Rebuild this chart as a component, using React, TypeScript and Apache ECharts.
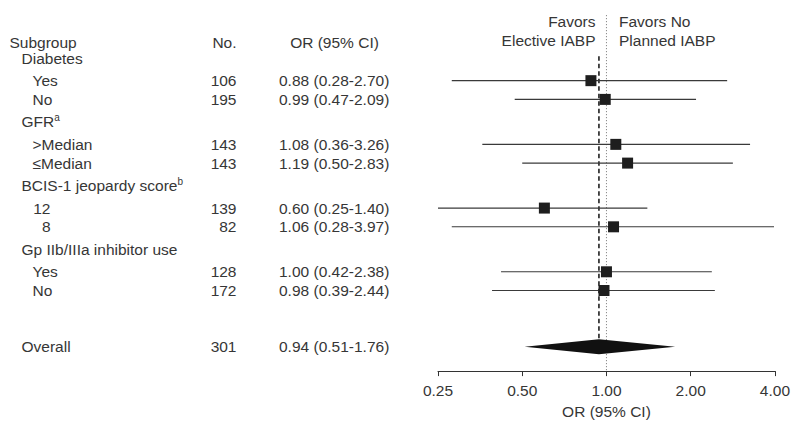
import React, { useEffect, useRef } from "react";
import * as echarts from "echarts";

const FONT = "'Liberation Sans', Arial, Helvetica, sans-serif";
const TXT = "#363636";
const FS = 15.5;

// ---- data ----
const rowLabels = [
  "Diabetes", "Yes", "No",
  "GFR", ">Median", "≤Median",
  "BCIS-1 jeopardy score", "12", "8",
  "Gp IIb/IIIa inhibitor use", "Yes", "No",
  "Overall",
];
const rowKinds = [
  "group", "item", "item",
  "group", "item", "item",
  "group", "item", "item",
  "group", "item", "item",
  "overall",
];
const rowSup = ["", "", "", "a", "", "", "b", "", "", "", "", "", ""];
const counts = [null, 106, 195, null, 143, 143, null, 139, 82, null, 128, 172, 301];
const orValues = [null, 0.88, 0.99, null, 1.08, 1.19, null, 0.6, 1.06, null, 1.0, 0.98, 0.94];
const ciLow = [null, 0.28, 0.47, null, 0.36, 0.5, null, 0.25, 0.28, null, 0.42, 0.39, 0.51];
const ciHigh = [null, 2.7, 2.09, null, 3.26, 2.83, null, 1.4, 3.97, null, 2.38, 2.44, 1.76];
const xTicks = [0.25, 0.5, 1, 2, 4];

const fmt = (v: number) => v.toFixed(2);

// row slots (layout derived from structure)
const slots: number[] = [];
rowKinds.forEach((k, i) => {
  if (i === 0) { slots.push(0); return; }
  const prev = slots[i - 1];
  if (k === "overall") slots.push(prev + 3);
  else if (k === "group" || rowKinds[i - 1] === "group") slots.push(prev + 1.2);
  else slots.push(prev + 1);
});

export default function App() {
  const ref = useRef<HTMLDivElement>(null);
  useEffect(() => {
    if (!ref.current) return;
    const chart = echarts.init(ref.current, undefined, { renderer: "svg" });

    const tableData = rowLabels.map((_, i) => [1, slots[i], i]);
    const ciData: number[][] = [];
    rowLabels.forEach((_, i) => {
      if (orValues[i] != null) {
        ciData.push([orValues[i] as number, ciLow[i] as number, ciHigh[i] as number, slots[i], rowKinds[i] === "overall" ? 1 : 0]);
      }
    });
    const overallIdx = rowKinds.indexOf("overall");
    const refData = [[1, slots[0], orValues[overallIdx] as number, slots[overallIdx]]];

    const txt = (text: string, x: number, y: number, align: string, extra: any = {}) => ({
      type: "text",
      x,
      y,
      style: {
        text,
        align,
        verticalAlign: "middle",
        fontSize: FS,
        fontFamily: FONT,
        fill: TXT,
        ...extra,
      },
    });

    chart.setOption({
      animation: false,
      grid: { left: 438, right: 17, top: 15, bottom: 46 },
      xAxis: {
        type: "log",
        logBase: 2,
        min: xTicks[0],
        max: xTicks[xTicks.length - 1],
        splitLine: { show: false },
        axisLine: { onZero: false, lineStyle: { color: "#333", width: 1 } },
        axisTick: { length: 5, lineStyle: { color: "#333" } },
        axisLabel: {
          formatter: (v: number) => fmt(v),
          color: TXT,
          fontSize: FS,
          fontFamily: FONT,
          margin: 11,
        },
        name: "OR (95% CI)",
        nameLocation: "middle",
        nameGap: 27.5,
        nameTextStyle: { color: TXT, fontSize: FS, fontFamily: FONT },
      },
      yAxis: { type: "value", inverse: true, min: -2.304, max: 16.7, show: false },
      graphic: [
        txt("Subgroup", 9.5, 42, "left"),
        txt("No.", 236.5, 42, "right"),
        txt("OR (95% CI)", 334.5, 42, "center"),
        txt("Favors\nElective IABP", 595.5, 31.2, "right", { lineHeight: 19 }),
        txt("Favors No\nPlanned IABP", 619, 31.2, "left", { lineHeight: 19 }),
      ],
      series: [
        {
          type: "custom",
          name: "ref",
          z: 1,
          silent: true,
          data: refData,
          encode: { x: 0, y: 1 },
          renderItem: (params: any, api: any) => {
            const cs = params.coordSys;
            const x1 = api.coord([api.value(0), api.value(1)])[0];
            const xd = api.coord([api.value(2), api.value(1)])[0];
            const yTop = api.coord([1, api.value(1) - 0.1])[1];
            const yBot = api.coord([1, api.value(3)])[1];
            return {
              type: "group",
              children: [
                {
                  type: "line",
                  shape: { x1, y1: cs.y, x2: x1, y2: cs.y + cs.height },
                  style: { stroke: "#8a8a8a", lineWidth: 1, lineDash: [1.2, 1.8] },
                },
                {
                  type: "line",
                  shape: { x1: xd, y1: yTop, x2: xd, y2: yBot },
                  style: { stroke: "#111", lineWidth: 1.5, lineDash: [4.5, 3] },
                },
              ],
            };
          },
        },
        {
          type: "custom",
          name: "ci",
          z: 2,
          silent: true,
          data: ciData,
          encode: { x: [0, 1, 2], y: 3 },
          renderItem: (params: any, api: any) => {
            const p = api.value(3);
            const c = api.coord([api.value(0), p]);
            const l = api.coord([api.value(1), p]);
            const h = api.coord([api.value(2), p]);
            if (api.value(4) === 1) {
              const hh = 7.5;
              return {
                type: "polygon",
                shape: {
                  points: [
                    [l[0], c[1]],
                    [c[0], c[1] - hh],
                    [h[0], c[1]],
                    [c[0], c[1] + hh],
                  ],
                },
                style: { fill: "#111" },
              };
            }
            const s = 11;
            return {
              type: "group",
              children: [
                {
                  type: "line",
                  shape: { x1: l[0], y1: c[1], x2: h[0], y2: c[1] },
                  style: { stroke: "#3a3a3a", lineWidth: 1.1 },
                },
                {
                  type: "rect",
                  shape: { x: c[0] - s / 2, y: c[1] - s / 2, width: s, height: s },
                  style: { fill: "#1e1e1e" },
                },
              ],
            };
          },
        },
        {
          type: "custom",
          name: "table",
          z: 3,
          silent: true,
          clip: false,
          data: tableData,
          encode: { x: 0, y: 1 },
          renderItem: (params: any, api: any) => {
            const i = api.value(2);
            const y = api.coord([1, api.value(1)])[1];
            const kind = rowKinds[i];
            const label = rowLabels[i];
            const children: any[] = [];
            const base = { fontSize: FS, fontFamily: FONT, fill: TXT, verticalAlign: "middle" };
            if (kind === "item" && /^\d+$/.test(label)) {
              children.push({ type: "text", x: 50.5, y, style: { ...base, text: label, align: "right" } });
            } else if (rowSup[i]) {
              children.push({
                type: "text",
                x: kind === "item" ? 32.5 : 21.5,
                y,
                style: {
                  ...base,
                  text: `{n|${label}}{s|${rowSup[i]}}`,
                  align: "left",
                  rich: {
                    n: { fontSize: FS, fontFamily: FONT, fill: TXT, lineHeight: 18 },
                    s: { fontSize: 10, fontFamily: FONT, fill: TXT, verticalAlign: "top", lineHeight: 10 },
                  },
                },
              });
            } else {
              children.push({
                type: "text",
                x: kind === "item" ? 32.5 : 21.5,
                y,
                style: { ...base, text: label, align: "left" },
              });
            }
            if (counts[i] != null) {
              children.push({ type: "text", x: 236.5, y, style: { ...base, text: String(counts[i]), align: "right" } });
            }
            if (orValues[i] != null) {
              const t = `${fmt(orValues[i] as number)} (${fmt(ciLow[i] as number)}-${fmt(ciHigh[i] as number)})`;
              children.push({ type: "text", x: 279, y, style: { ...base, text: t, align: "left" } });
            }
            return { type: "group", children };
          },
        },
      ],
    });
    return () => chart.dispose();
  }, []);
  return (
    <div
      ref={ref}
      style={{ position: "fixed", left: 0, top: 0, width: 793, height: 424, background: "#fff" }}
    />
  );
}
